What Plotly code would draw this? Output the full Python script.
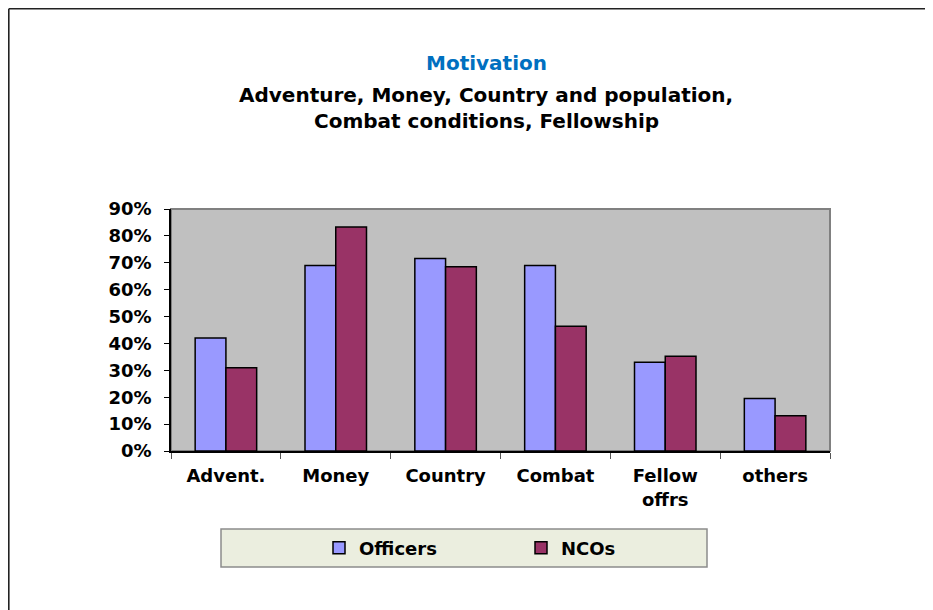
import plotly.graph_objects as go

# data
categories = ["Advent.", "Money", "Country", "Combat", "Fellow<br>offrs", "others"]
officers = [0.42, 0.69, 0.716, 0.69, 0.33, 0.195]
ncos = [0.31, 0.833, 0.685, 0.464, 0.352, 0.131]
series_names = ["Officers", "NCOs"]

title_main = "Motivation"
title_sub = ["Adventure, Money, Country and population,", "Combat conditions, Fellowship"]

# the page body adds an 8px margin, so the figure is laid out in page
# pixels minus 8
OFF = 8
W, H = 933 - OFF, 610 - OFF
L, T = 171 - OFF, 209 - OFF
R = W - (830 - OFF)
B = H - (451 - OFF)
plot_w = W - L - R
plot_h = H - T - B


def px_x(x):
    # x given in screenshot pixels
    return (x - OFF - L) / plot_w


def px_y(y):
    return (H - B - (y - OFF)) / plot_h


FONT = "DejaVu Sans"

fig = go.Figure()
fig.add_trace(go.Bar(
    x=categories, y=officers, name=series_names[0],
    marker=dict(color="#9999FF", line=dict(color="#000000", width=1.5)),
))
fig.add_trace(go.Bar(
    x=categories, y=ncos, name=series_names[1],
    marker=dict(color="#993366", line=dict(color="#000000", width=1.5)),
))

shapes = [
    # plot area border (grey) drawn under the axes
    dict(type="rect", xref="paper", yref="paper", x0=0, x1=1, y0=0, y1=1,
         line=dict(color="#808080", width=2), layer="below"),
    # legend box
    dict(type="rect", xref="paper", yref="paper",
         x0=px_x(221), x1=px_x(707), y0=px_y(567), y1=px_y(529),
         fillcolor="#EBEEDF", line=dict(color="#8C8C8C", width=1.5), layer="below"),
    # outer chart border (left and top edges visible)
    dict(type="line", xref="paper", yref="paper",
         x0=px_x(8.8), x1=px_x(8.8), y0=px_y(8.8), y1=px_y(620),
         line=dict(color="#222222", width=1.6)),
    dict(type="line", xref="paper", yref="paper",
         x0=px_x(8.8), x1=px_x(945), y0=px_y(8.8), y1=px_y(8.8),
         line=dict(color="#222222", width=1.6)),
]

annotations = [
    dict(text="<b>%s</b>" % title_main, xref="paper", yref="paper",
         x=px_x(486), y=px_y(63), showarrow=False,
         xanchor="center", yanchor="middle",
         font=dict(family=FONT, size=20, color="#0070C0")),
    dict(text="<b>%s</b>" % title_sub[0], xref="paper", yref="paper",
         x=px_x(486), y=px_y(95), showarrow=False,
         xanchor="center", yanchor="middle",
         font=dict(family=FONT, size=20, color="#000000")),
    dict(text="<b>%s</b>" % title_sub[1], xref="paper", yref="paper",
         x=px_x(486), y=px_y(121), showarrow=False,
         xanchor="center", yanchor="middle",
         font=dict(family=FONT, size=20, color="#000000")),
]

fig.update_layout(
    width=W, height=H,
    margin=dict(l=L, r=R, t=T, b=B, pad=0),
    paper_bgcolor="#FFFFFF",
    plot_bgcolor="#C0C0C0",
    barmode="group",
    bargap=0.44,
    bargroupgap=0,
    font=dict(family=FONT, size=17, color="#000000"),
    shapes=shapes,
    annotations=annotations,
    showlegend=True,
    legend=dict(
        orientation="h",
        xref="container", yref="container",
        x=(319 - OFF) / W, y=1 - (548 - OFF) / H, xanchor="left", yanchor="middle",
        bgcolor="rgba(0,0,0,0)",
        font=dict(family=FONT, size=18, color="#000000", weight="bold"),
        entrywidth=157, entrywidthmode="pixels",
        itemwidth=30,
        traceorder="normal",
    ),
    xaxis=dict(
        showgrid=False,
        showline=True, linecolor="#000000", linewidth=1.5,
        ticks="outside", tickson="boundaries", ticklen=6,
        tickcolor="#555555", tickwidth=1,
        ticklabelstandoff=8,
        tickfont=dict(family=FONT, size=18, color="#000000", weight="bold"),
        fixedrange=True,
    ),
    yaxis=dict(
        range=[0, 0.9],
        dtick=0.1,
        tickformat=".0%",
        showgrid=False, zeroline=False,
        showline=True, linecolor="#000000", linewidth=1.5,
        ticks="outside", ticklen=5, tickcolor="#000000", tickwidth=1,
        ticklabelstandoff=9,
        tickfont=dict(family=FONT, size=18, color="#000000", weight="bold"),
        fixedrange=True,
    ),
)

fig.write_html("out.html")
